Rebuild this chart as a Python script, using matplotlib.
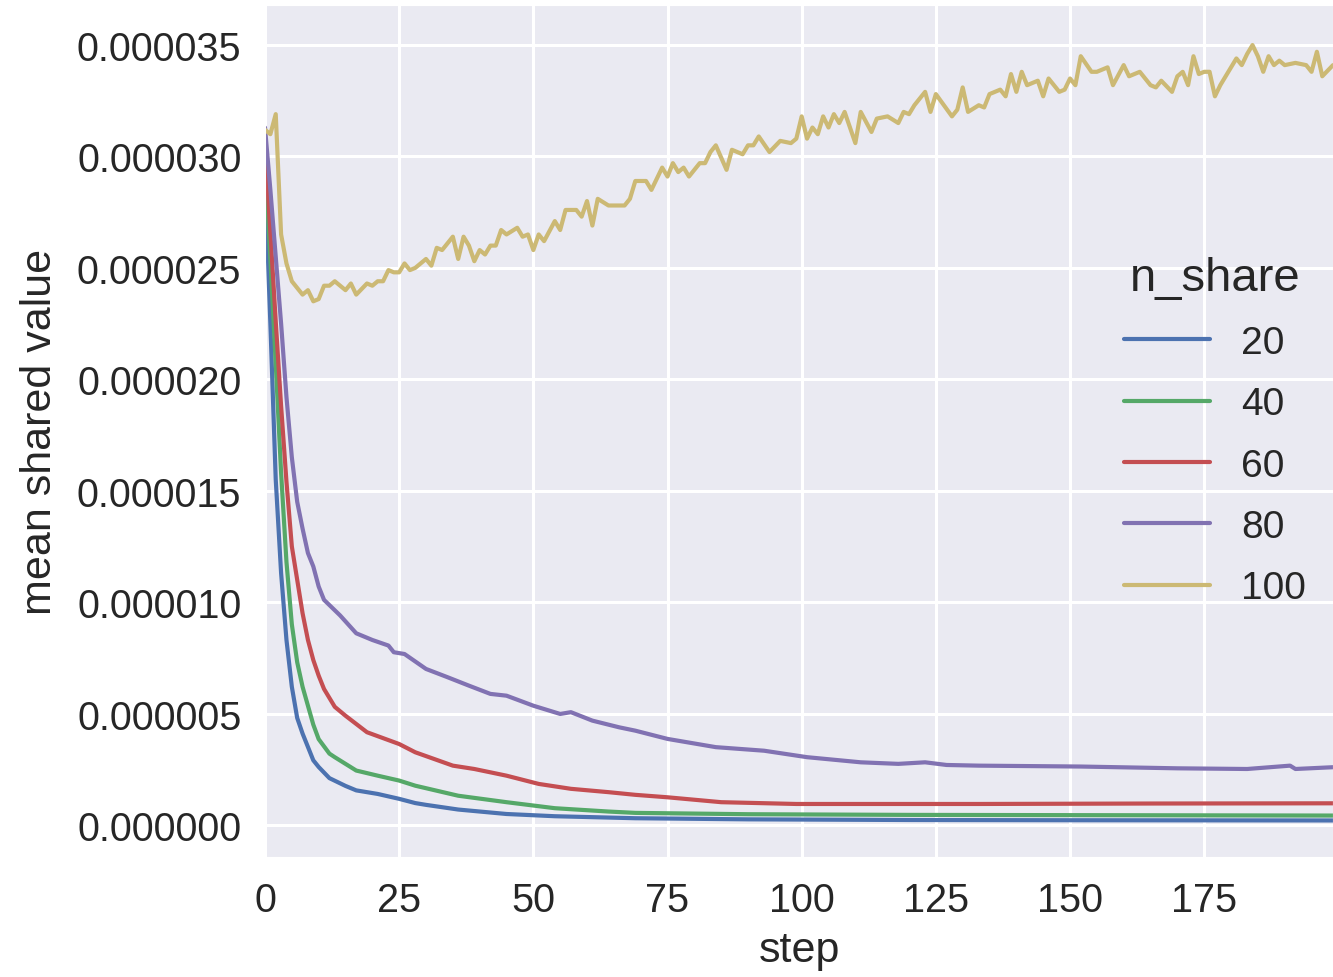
import numpy as np
import matplotlib
matplotlib.use('Agg')
import matplotlib.pyplot as plt
from matplotlib.ticker import MultipleLocator, FormatStrFormatter
import seaborn as sns

# values, in units of 1e-6
steps_20 = [0, 1, 2, 3, 4, 5, 6, 7, 8, 9, 10, 12, 15, 17, 21, 25, 28, 30, 36, 45, 54, 69, 90, 120, 150, 199]
mean_20 = [29.0, 22.5, 15.5, 11.3, 8.3, 6.2, 4.8, 4.1, 3.5, 2.9, 2.6, 2.1, 1.75, 1.55, 1.39, 1.17,
           0.98, 0.9, 0.69, 0.49, 0.39, 0.30, 0.25, 0.22, 0.21, 0.20]

steps_40 = [0, 1, 2, 3, 4, 5, 6, 7, 8, 9, 10, 12, 13, 17, 21, 25, 28, 36, 45, 54, 64, 69, 90, 120, 199]
mean_40 = [29.8, 25.4, 20.7, 15.8, 11.8, 9.0, 7.3, 6.2, 5.35, 4.5, 3.85, 3.2, 3.04, 2.44, 2.21, 1.99,
           1.76, 1.31, 1.02, 0.75, 0.60, 0.54, 0.48, 0.45, 0.42]

steps_60 = [0, 1, 2, 3, 4, 5, 6, 7, 8, 9, 10, 11, 13, 15, 19, 25, 28, 35, 39, 45, 51, 57, 64, 69,
            75, 85, 99, 133, 165, 199]
mean_60 = [30.5, 26.6, 22.6, 18.8, 15.4, 12.5, 11.0, 9.5, 8.3, 7.4, 6.7, 6.1, 5.3, 4.9, 4.16, 3.63,
           3.26, 2.66, 2.51, 2.21, 1.84, 1.62, 1.47, 1.35, 1.24, 1.02, 0.94, 0.94, 0.96, 0.97]

steps_80 = [0, 1, 2, 3, 4, 5, 6, 7, 8, 9, 10, 11, 14, 17, 20, 23, 24, 26, 30, 34, 38, 42, 45, 50,
            55, 57, 61, 66, 69, 75, 84, 93, 101, 111, 118, 123, 127, 133, 152, 170, 183, 191, 192, 199]
mean_80 = [31.3, 28.5, 25.5, 22.5, 19.2, 16.5, 14.5, 13.3, 12.2, 11.6, 10.7, 10.1, 9.4, 8.6, 8.3,
           8.05, 7.75, 7.67, 7.0, 6.63, 6.25, 5.88, 5.8, 5.35, 4.98, 5.06, 4.68, 4.38, 4.23, 3.86,
           3.49, 3.33, 3.04, 2.81, 2.74, 2.81, 2.69, 2.66, 2.62, 2.54, 2.51, 2.66, 2.51, 2.59]

steps_100 = [0, 1, 2, 3, 4, 5, 7, 8, 9, 10, 11, 12, 13, 15, 16, 17, 19, 20, 21, 22, 23, 24, 25, 26,
             27, 28, 30, 31, 32, 33, 35, 36, 37, 38, 39, 40, 41, 42, 43, 44, 45, 47, 48, 49, 50, 51,
             52, 54, 55, 56, 58, 59, 60, 61, 62, 64, 67, 68, 69, 71, 72, 74, 75, 76, 77, 78, 79, 81,
             82, 83, 84, 86, 87, 89, 90, 91, 92, 94, 96, 98, 99, 100, 101, 102, 103, 104, 105, 106,
             107, 108, 110, 111, 113, 114, 116, 118, 119, 120, 121, 123, 124, 125, 128, 129, 130, 131,
             133, 134, 135, 137, 138, 139, 140, 141, 142, 144, 145, 146, 148, 149, 150, 151, 152, 154,
             155, 157, 158, 160, 161, 163, 165, 166, 167, 169, 170, 171, 172, 173, 174, 175, 176, 177,
             178, 179, 181, 182, 183, 184, 185, 186, 187, 188, 189, 190, 192, 194, 195, 196, 197, 199]
mean_100 = [31.2, 31.0, 31.9, 26.5, 25.2, 24.4, 23.8, 24.0, 23.5, 23.6, 24.2, 24.2, 24.4, 24.0, 24.3,
            23.8, 24.3, 24.2, 24.4, 24.4, 24.9, 24.8, 24.8, 25.2, 24.9, 25.0, 25.4, 25.1, 25.9, 25.8,
            26.4, 25.4, 26.4, 26.0, 25.3, 25.8, 25.6, 26.0, 26.0, 26.7, 26.5, 26.8, 26.4, 26.5, 25.8,
            26.5, 26.2, 27.1, 26.7, 27.6, 27.6, 27.3, 28.0, 26.9, 28.1, 27.8, 27.8, 28.1, 28.9, 28.9,
            28.5, 29.5, 29.1, 29.7, 29.3, 29.5, 29.1, 29.7, 29.7, 30.2, 30.5, 29.4, 30.3, 30.1, 30.5,
            30.5, 30.9, 30.2, 30.7, 30.6, 30.8, 31.8, 30.8, 31.3, 31.0, 31.8, 31.3, 31.9, 31.5, 32.0,
            30.6, 32.0, 31.1, 31.7, 31.8, 31.5, 32.0, 31.9, 32.3, 32.9, 32.0, 32.8, 31.8, 32.1, 33.1,
            32.0, 32.3, 32.2, 32.8, 33.0, 32.7, 33.7, 32.9, 33.8, 33.2, 33.4, 32.7, 33.5, 32.9, 33.0,
            33.5, 33.2, 34.5, 33.8, 33.8, 34.0, 33.2, 34.1, 33.6, 33.8, 33.2, 33.1, 33.4, 32.9, 33.6,
            33.8, 33.2, 34.5, 33.7, 33.8, 33.8, 32.7, 33.2, 33.6, 34.4, 34.1, 34.6, 35.0, 34.5, 33.8,
            34.5, 34.1, 34.3, 34.1, 34.2, 34.1, 33.8, 34.7, 33.6, 34.1]

labels = ['20', '40', '60', '80', '100']
colors = ['#4C72B0', '#55A868', '#C44E52', '#8172B2', '#CCB974']

sns.set_style('darkgrid')
plt.rcParams['font.family'] = ['Liberation Sans', 'DejaVu Sans']

fig = plt.figure(figsize=(13.33, 9.78), dpi=100)
ax = fig.add_axes([0.1988, 0.1227, 0.8012, 0.8712])

series = [(steps_20, mean_20), (steps_40, mean_40), (steps_60, mean_60),
          (steps_80, mean_80), (steps_100, mean_100)]
for (s, m), lab, c in zip(series, labels, colors):
    ax.plot(s, np.array(m) * 1e-6, color=c, lw=3.0, label=lab)

ax.set_xlim(0, 199)
ax.set_ylim(-1.44e-6, 36.8e-6)
ax.yaxis.set_major_locator(MultipleLocator(5e-6))
ax.yaxis.set_major_formatter(FormatStrFormatter('%.6f'))
ax.xaxis.set_major_locator(MultipleLocator(25))
ax.grid(color='white', lw=2.2)
ax.tick_params(labelsize=28.5, pad=17, colors='#262626', length=0)

ax.set_xlabel('step', fontsize=31, color='#262626', labelpad=8)
ax.set_ylabel('mean shared value', fontsize=31, color='#262626', labelpad=12)

leg = ax.legend(title='n_share', loc='center right', fontsize=28, frameon=False,
                handlelength=2.2, labelspacing=0.65, borderaxespad=0.3)
leg.get_title().set_fontsize(34)
leg.get_title().set_color('#262626')
for t in leg.get_texts():
    t.set_color('#262626')

plt.savefig('out.png', dpi=100)
